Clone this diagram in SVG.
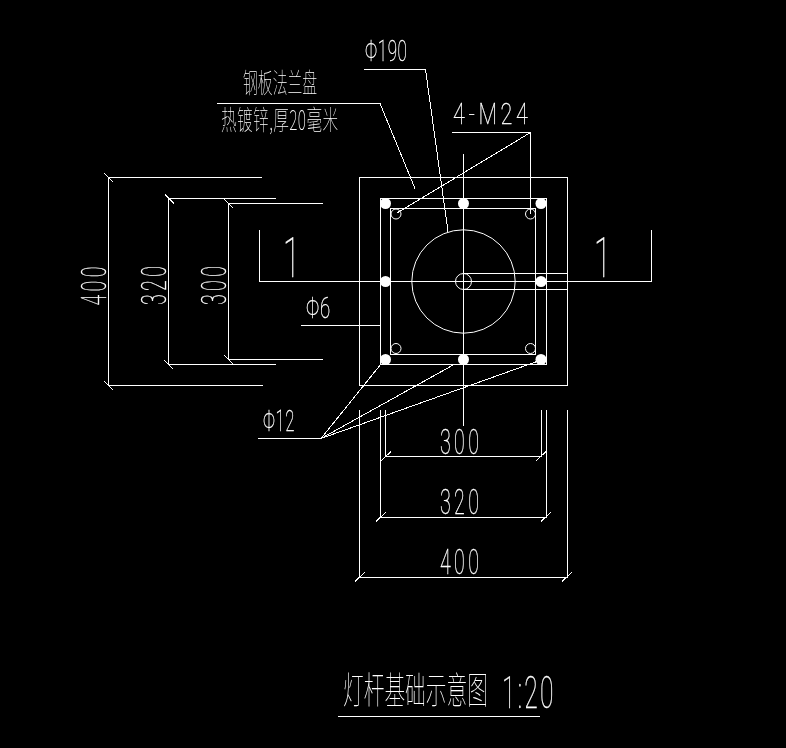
<svg xmlns="http://www.w3.org/2000/svg" width="786" height="748" viewBox="0 0 786 748">
<style>
line,path,rect,circle{fill:none;stroke:#fff;stroke-width:1;shape-rendering:crispEdges}
circle{shape-rendering:auto}
circle.dot{fill:#fff;stroke:none}
#labels{opacity:.999}
text{fill:#fff;stroke:#fff;stroke-width:.35;font-family:Roboto,"Liberation Sans",sans-serif;font-weight:100}
text.cjk{font-family:"Noto Sans CJK SC",sans-serif;stroke:none;font-weight:100}
.d{font-size:35px;letter-spacing:6px}
.l{font-size:30px;letter-spacing:1px}
</style>
<rect width="786" height="748" style="fill:#000;stroke:none"/>
<g id="plan">
<rect x="359.5" y="177.5" width="208" height="208"/>
<rect x="380.5" y="198.5" width="166" height="166"/>
<rect x="390.5" y="208.5" width="145" height="146"/>
<circle cx="463.5" cy="281.5" r="51.7"/>
<circle cx="463.5" cy="281.5" r="8"/>
<path d="M463.5 273.5H567.5M463.5 289.5H567.5"/>
<circle cx="396" cy="214" r="5"/><circle cx="530.5" cy="214" r="5"/>
<circle cx="396" cy="348.5" r="5"/><circle cx="530.5" cy="348.5" r="5"/>
<g id="rebars">
<circle class="dot" cx="385.5" cy="203.5" r="5.5"/><circle class="dot" cx="463.5" cy="203.5" r="5.5"/><circle class="dot" cx="541" cy="203.5" r="5.5"/>
<circle class="dot" cx="385.5" cy="281.5" r="5.5"/><circle class="dot" cx="541" cy="281.5" r="5.5"/>
<circle class="dot" cx="385.5" cy="359.5" r="5.5"/><circle class="dot" cx="463.5" cy="359.5" r="5.5"/><circle class="dot" cx="541" cy="359.5" r="5.5"/>
</g>
</g>
<g id="connectors">
<path d="M463.5 154V426"/>
<path d="M259.5 230V281.5H651.5V230"/>
<path d="M364 69.5H425.5L448 231.5"/>
<path d="M217 103.5H380L415 188.5"/>
<path d="M452 132.5H530.5V214M530.5 132.5L397 213"/>
<path d="M301 325.5H380.5"/>
<path d="M258 438.5H321L381 364M321 438.5L455 364M321 438.5L537 361.5"/>
<path d="M338 716.5H540"/>
</g>
<g id="dims-left">
<path d="M262 177.5H108.5V385.5H263"/>
<path d="M276 198.5H168.5V364.5H276"/>
<path d="M323 203.5H228.5V359.5H323"/>
<path d="M104 173L113.500 182.500M104 381L113 390M165 194.500L174 203.500M164 360L173 369M224 199L233 208M224 355L233 364"/>
</g>
<g id="dims-bottom">
<path d="M385.500 410V456.500H541V410"/>
<path d="M380.500 410V517.500H546.500V410"/>
<path d="M359.500 410V577.500H567.500V410"/>
<path d="M381 461L391 451.500M536 461L546 451.500M376 521.500L386 512M541 521.500L551 512M355 581.500L365 572M562 581.500L572 572"/>
</g>
<g id="labels">
<text class="d" transform="translate(440 453.500) scale(.56 1)">300</text>
<text class="d" transform="translate(440 514) scale(.56 1)">320</text>
<text class="d" transform="translate(440 574) scale(.56 1)">400</text>
<text class="d" transform="translate(105.500 305.500) rotate(-90) scale(.56 1)">400</text>
<text class="d" transform="translate(166 305) rotate(-90) scale(.56 1)">320</text>
<text class="d" transform="translate(226 305) rotate(-90) scale(.56 1)">300</text>
<text style="font-size:56px" transform="translate(283 276.500) scale(.56 1)">1</text>
<text style="font-size:56px" transform="translate(594 276.500) scale(.56 1)">1</text>
<text class="l" transform="translate(365 61) scale(.57 1)">Φ190</text>
<text class="l" transform="translate(453 124) scale(.72 1)" style="letter-spacing:5px">4-M24</text>
<text class="l" transform="translate(306 318) scale(.62 1)">Φ6</text>
<text class="l" transform="translate(263 431) scale(.56 1)">Φ12</text>
<text class="cjk" style="font-size:27px" transform="translate(243 93) scale(.55 1)">钢板法兰盘</text>
<text class="cjk" style="font-size:27px;letter-spacing:.7px" transform="translate(221 130) scale(.58 1)">热镀锌,厚20毫米</text>
<text class="cjk" style="font-size:37px" transform="translate(343 704) scale(.56 1)">灯杆基础示意图</text>
<text class="d" style="font-size:44px;letter-spacing:4px" transform="translate(502 708) scale(.56 1)">1:20</text>
</g>
</svg>
